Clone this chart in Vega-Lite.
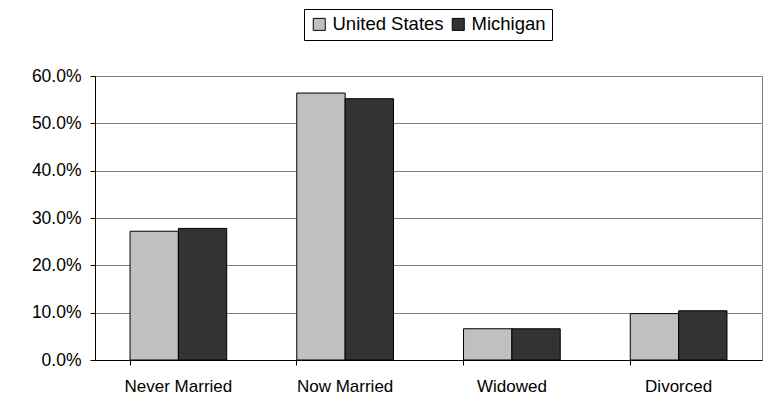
{
  "$schema": "https://vega.github.io/schema/vega-lite/v6.json",
  "width": 667,
  "height": 284,
  "autosize": {"type": "none"},
  "padding": {"left": 95, "top": 76, "right": 6, "bottom": 60},
  "background": "white",
  "data": {
    "values": [
      {"status": "Never Married", "area": "United States", "share": 0.272},
      {"status": "Never Married", "area": "Michigan", "share": 0.278},
      {"status": "Now Married", "area": "United States", "share": 0.564},
      {"status": "Now Married", "area": "Michigan", "share": 0.552},
      {"status": "Widowed", "area": "United States", "share": 0.066},
      {"status": "Widowed", "area": "Michigan", "share": 0.066},
      {"status": "Divorced", "area": "United States", "share": 0.098},
      {"status": "Divorced", "area": "Michigan", "share": 0.104}
    ]
  },
  "mark": {"type": "bar", "stroke": "black", "strokeWidth": 1},
  "encoding": {
    "x": {
      "field": "status",
      "type": "nominal",
      "sort": ["Never Married", "Now Married", "Widowed", "Divorced"],
      "scale": {"paddingInner": 0.42, "paddingOuter": 0.21},
      "axis": {
        "title": null,
        "labelAngle": 0,
        "bandPosition": 0,
        "tickSize": 5,
        "labelPadding": 13,
        "domainColor": "black",
        "tickColor": "black",
        "grid": false
      }
    },
    "xOffset": {
      "field": "area",
      "type": "nominal",
      "sort": ["United States", "Michigan"]
    },
    "y": {
      "field": "share",
      "type": "quantitative",
      "scale": {"domain": [0, 0.6], "nice": false},
      "axis": {
        "title": null,
        "format": ".1%",
        "values": [0, 0.1, 0.2, 0.3, 0.4, 0.5, 0.6],
        "labelOverlap": false,
        "tickSize": 5,
        "labelPadding": 9,
        "labelFontSize": 17.5,
        "domainColor": "black",
        "tickColor": "black",
        "grid": true,
        "gridColor": "#808080",
        "gridWidth": 1
      }
    },
    "color": {
      "field": "area",
      "type": "nominal",
      "scale": {"domain": ["United States", "Michigan"], "range": ["#C0C0C0", "#333333"]},
      "legend": {
        "title": null,
        "orient": "none",
        "legendX": 209,
        "legendY": -67,
        "direction": "horizontal",
        "columns": 2,
        "strokeColor": "black",
        "fillColor": "white",
        "padding": 6,
        "symbolType": "square",
        "symbolSize": 144,
        "symbolStrokeColor": "black",
        "symbolStrokeWidth": 1,
        "symbolOpacity": 1,
        "labelOffset": 4,
        "columnPadding": 5,
        "labelFontSize": 18.5
      }
    }
  },
  "config": {
    "font": "Liberation Sans",
    "view": {"stroke": "#808080", "strokeWidth": 1},
    "axis": {"labelFont": "Liberation Sans", "labelFontSize": 17, "labelColor": "black", "domainWidth": 1, "tickWidth": 1},
    "legend": {"labelFont": "Liberation Sans", "labelFontSize": 18.5, "labelColor": "black"}
  }
}
